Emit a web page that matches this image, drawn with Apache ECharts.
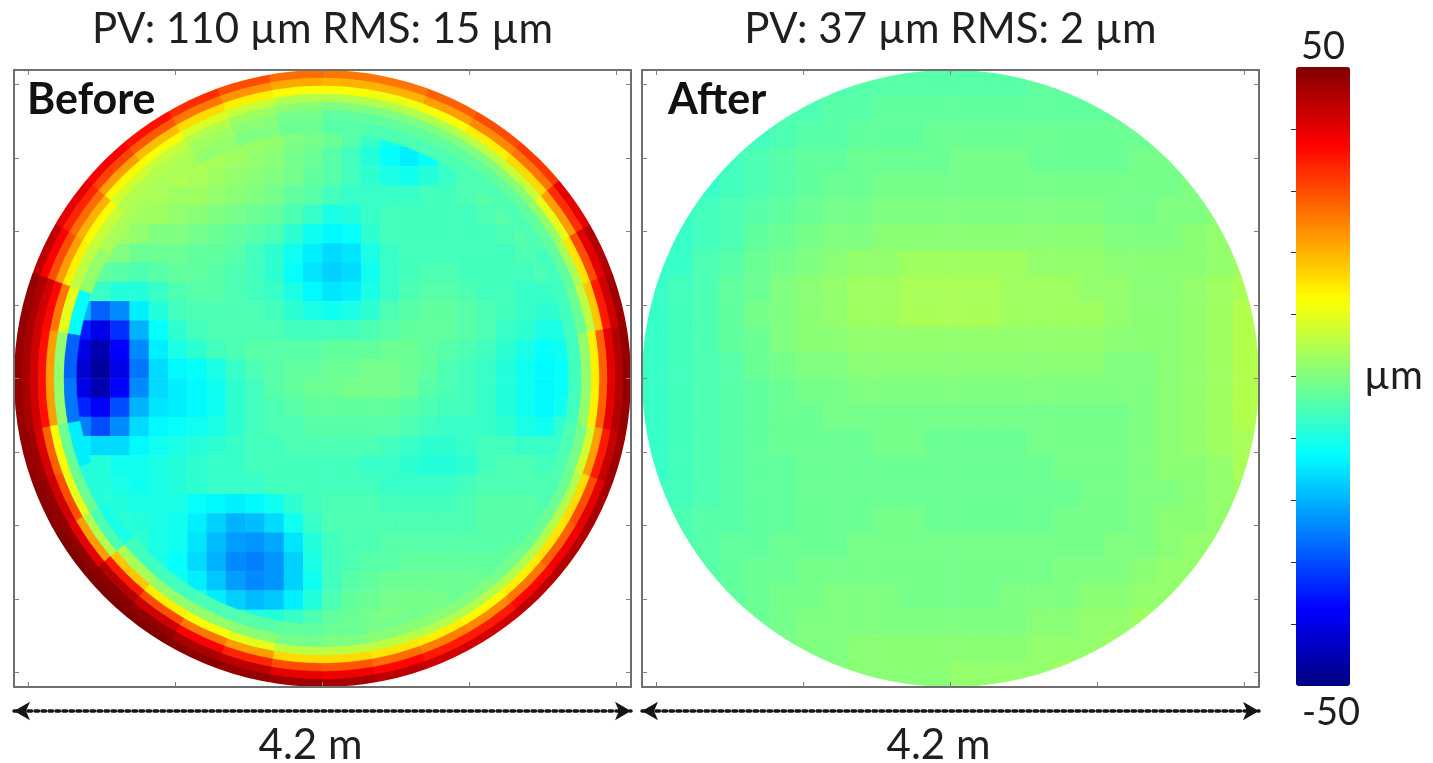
<!DOCTYPE html>
<html>
<head>
<meta charset="utf-8">
<title>Surface error before and after correction</title>
<script src="https://cdn.jsdelivr.net/npm/echarts@6/dist/echarts.min.js"></script>
<style>
  html, body { margin: 0; padding: 0; background: #fff; }
  #chart { width: 1433px; height: 763px; }
</style>
</head>
<body>
<div id="chart"></div>
<script>
const _ = null;

// Half-width of the measured aperture (m); the map is 4.2 m across.
const APERTURE_HALF = 2.1;

// Surface height (µm) before correction, 32 x 32 cells, top row first.
const beforeRows = [
  [_,_,_,_,_,_,_,_,_,_,34,32,30,27,25,24,24,24,24,25,26,27,_,_,_,_,_,_,_,_,_,_],
  [_,_,_,_,_,_,_,_,36,32,25,19,14,10,8,7,7,8,9,12,17,23,28,30,_,_,_,_,_,_,_,_],
  [_,_,_,_,_,_,42,38,28,19,12,7,4,2,0,-1,-2,-3,-4,-4,0,6,12,20,28,31,_,_,_,_,_,_],
  [_,_,_,_,_,42,36,25,14,8,5,4,3,2,0,-1,-2,-4,-7,-11,-13,-9,0,8,17,26,30,_,_,_,_,_],
  [_,_,_,_,38,30,17,9,6,5,4,3,2,1,-1,-2,-4,-6,-9,-12,-14,-12,-7,-3,1,6,14,25,_,_,_,_],
  [_,_,_,42,34,22,12,5,5,4,3,2,1,0,-1,-3,-4,-6,-8,-10,-11,-9,-7,-5,-4,3,12,24,30,_,_,_],
  [_,_,44,38,25,14,5,4,3,3,2,1,0,-1,-3,-4,-6,-7,-7,-7,-7,-6,-6,-5,-4,-4,4,13,26,32,_,_],
  [_,_,44,32,14,5,3,3,2,1,0,-1,-2,-3,-5,-7,-10,-9,-7,-6,-6,-6,-6,-6,-5,-4,-4,5,18,32,_,_],
  [_,46,38,18,4,3,2,0,0,-1,-2,-3,-4,-5,-8,-11,-13,-12,-8,-6,-6,-6,-6,-6,-6,-5,-4,-4,10,28,38,_],
  [_,46,32,10,2,0,-2,-2,-2,-3,-3,-4,-6,-8,-11,-14,-16,-15,-10,-7,-6,-6,-6,-6,-6,-6,-5,-5,5,22,40,_],
  [48,46,36,0,-3,-4,-5,-4,-3,-3,-4,-5,-6,-8,-12,-15,-17,-16,-11,-7,-6,-5,-5,-6,-6,-6,-6,-5,-6,12,36,46],
  [48,44,26,-2,-7,-9,-9,-7,-5,-4,-4,-5,-6,-7,-10,-13,-15,-14,-10,-7,-5,-4,-4,-5,-6,-6,-7,-7,-7,8,37,47],
  [48,40,8,-20,-28,-24,-14,-9,-6,-5,-5,-5,-5,-6,-8,-10,-11,-10,-8,-5,-4,-3,-3,-4,-5,-6,-7,-8,-8,3,34,47],
  [48,32,0,-35,-40,-33,-20,-12,-8,-6,-5,-5,-5,-5,-6,-6,-6,-6,-5,-4,-3,-3,-3,-4,-5,-7,-8,-10,-10,1,28,47],
  [48,30,-5,-40,-45,-38,-24,-14,-10,-8,-6,-5,-4,-4,-4,-4,-3,-3,-3,-2,-2,-3,-4,-5,-6,-8,-10,-12,-11,-8,26,46],
  [48,28,-30,-42,-47,-40,-26,-16,-13,-12,-10,-7,-5,-4,-3,-3,-2,-2,-1,-1,-2,-3,-5,-6,-7,-9,-11,-13,-12,-8,26,46],
  [48,30,-30,-40,-45,-38,-24,-16,-14,-13,-11,-8,-6,-4,-3,-2,-2,-1,-1,-1,-2,-4,-5,-6,-7,-9,-11,-13,-12,-8,26,46],
  [48,34,-25,-34,-38,-30,-20,-15,-14,-13,-11,-8,-6,-5,-4,-3,-3,-3,-3,-3,-4,-5,-6,-6,-7,-9,-11,-13,-11,-8,28,47],
  [48,40,-15,-25,-30,-24,-16,-13,-12,-11,-10,-8,-6,-5,-5,-4,-4,-4,-4,-4,-5,-6,-7,-7,-7,-8,-10,-11,-8,-6,30,47],
  [48,46,-10,-14,-16,-16,-13,-11,-10,-9,-8,-7,-6,-6,-5,-5,-5,-5,-5,-6,-7,-8,-8,-7,-6,-6,-7,-7,-7,-5,34,47],
  [48,48,30,-10,-9,-11,-11,-10,-9,-8,-7,-7,-6,-6,-6,-6,-6,-6,-7,-7,-8,-9,-9,-8,-6,-5,-5,-6,-6,10,40,46],
  [48,50,42,-8,-9,-10,-11,-10,-9,-8,-7,-7,-7,-6,-6,-6,-6,-6,-6,-7,-7,-7,-7,-6,-5,-5,-5,-5,-5,16,42,46],
  [_,48,48,28,-8,-9,-10,-10,-10,-12,-13,-14,-13,-11,-8,-6,-5,-5,-5,-6,-6,-6,-6,-5,-4,-4,-4,-4,4,24,44,_],
  [_,48,50,44,-6,-8,-9,-10,-11,-14,-17,-20,-19,-16,-11,-7,-5,-5,-5,-5,-5,-5,-5,-5,-4,-4,-4,-4,12,34,44,_],
  [_,_,48,50,40,-6,-8,-10,-11,-15,-19,-22,-23,-21,-15,-9,-6,-5,-5,-4,-4,-4,-4,-4,-4,-4,-4,5,26,42,_,_],
  [_,_,48,50,48,22,-7,-10,-12,-16,-20,-24,-25,-23,-17,-10,-6,-5,-4,-4,-3,-3,-3,-3,-3,-3,6,22,38,42,_,_],
  [_,_,_,48,50,44,12,-8,-11,-14,-18,-22,-24,-23,-17,-11,-6,-4,-3,-2,-2,-2,-2,-2,-2,-2,10,25,40,_,_,_],
  [_,_,_,_,48,50,40,10,-7,-10,-14,-17,-19,-18,-14,-9,-5,-3,-2,-1,-1,-1,-1,-1,-1,12,26,38,_,_,_,_],
  [_,_,_,_,_,48,50,46,32,8,-4,-8,-10,-9,-7,-5,-3,-2,-1,0,-1,-1,-1,9,18,30,38,_,_,_,_,_],
  [_,_,_,_,_,_,48,50,48,42,30,14,4,0,-2,-3,-3,-2,0,3,8,15,22,30,38,40,_,_,_,_,_,_],
  [_,_,_,_,_,_,_,_,48,50,49,44,38,26,22,20,20,22,26,30,34,38,40,40,_,_,_,_,_,_,_,_],
  [_,_,_,_,_,_,_,_,_,_,50,50,49,48,47,46,46,45,44,43,42,42,_,_,_,_,_,_,_,_,_,_]
];

// Rim of the "before" map in polar cells: ring edges (m, outermost first),
// sector edges (deg, counter-clockwise from the right) and heights (µm),
// one row per sector, outer ring first.
const rimRadii = [2.1, 2.045, 1.991, 1.936, 1.882, 1.827, 1.759, 1.677];
const rimSectorEdges = [0, 10, 20, 30, 40, 50, 60, 70, 80, 90, 100, 110, 120,
  130, 140, 150, 160, 170, 180, 190, 200, 210, 220, 230, 240, 250, 260, 270,
  280, 290, 300, 310, 320, 330, 340, 350, 360];
const rimProfiles = [
  [48, 45, 40, 28, 14, 2, -6],
  [47, 42, 35, 18, 6, -2, -6],
  [45, 40, 30, 15, 4, -3, -6],
  [40, 33, 22, 10, 2, -3, -5],
  [32, 26, 16, 7, 1, -3, -5],
  [30, 24, 14, 6, 0, -3, -5],
  [28, 22, 12, 5, 0, -3, -5],
  [26, 20, 11, 5, 0, -3, -5],
  [26, 20, 12, 5, 0, -3, -4],
  [27, 21, 12, 5, 1, -1, -2],
  [30, 23, 14, 7, 3, 1, 0],
  [33, 26, 16, 9, 5, 3, 2],
  [36, 29, 19, 12, 7, 5, 4],
  [38, 31, 22, 13, 8, 5, 4],
  [40, 34, 27, 20, 13, 7, 4],
  [44, 38, 30, 22, 14, 6, 2],
  [48, 46, 42, 37, 26, 10, -12],
  [48, 46, 42, 36, 22, 2, -28],
  [48, 46, 42, 36, 22, 2, -26],
  [48, 47, 41, 28, 12, -2, -14],
  [49, 48, 42, 30, 10, -2, -9],
  [50, 48, 40, 22, 5, -5, -10],
  [50, 49, 45, 35, 18, 4, -6],
  [50, 48, 42, 30, 14, 2, -6],
  [49, 46, 38, 26, 12, 2, -5],
  [48, 44, 34, 22, 10, 1, -4],
  [47, 40, 30, 16, 6, -1, -3],
  [46, 39, 29, 16, 6, 0, -2],
  [44, 37, 27, 15, 6, 1, -1],
  [42, 35, 25, 14, 5, 1, -1],
  [42, 35, 24, 13, 5, 0, -2],
  [44, 37, 26, 14, 5, -1, -3],
  [45, 39, 28, 15, 5, -2, -4],
  [46, 40, 30, 16, 5, -2, -5],
  [47, 43, 35, 22, 8, -1, -5],
  [48, 45, 40, 28, 14, 2, -6]
];

// Surface height (µm) after correction, 24 x 24 cells, top row first.
const afterRows = [
  [_,_,_,_,_,_,_,-5,-4,-4,-4,-4,-4,-4,-4,-3,-3,_,_,_,_,_,_,_],
  [_,_,_,_,_,-5,-5,-4,-4,-3,-3,-3,-3,-3,-3,-3,-3,-3,-3,_,_,_,_,_],
  [_,_,_,_,-6,-5,-4,-4,-3,-3,-3,-2,-2,-2,-2,-2,-2,-2,-2,-2,_,_,_,_],
  [_,_,_,-6,-5,-4,-3,-3,-2,-2,-2,-2,-1,-1,-1,-2,-2,-2,-2,-1,-1,_,_,_],
  [_,_,-7,-6,-5,-4,-3,-2,-2,-1,-1,-1,-1,-1,-1,-1,-1,-1,-1,-1,-1,0,_,_],
  [_,-7,-6,-5,-4,-3,-2,-1,-1,0,0,0,0,0,0,0,0,0,-1,-1,0,0,1,_],
  [_,-7,-6,-5,-3,-2,-1,0,0,1,1,1,1,1,1,1,1,1,0,0,0,1,2,_],
  [-7,-7,-5,-4,-2,-1,0,1,2,2,3,3,3,3,3,2,2,2,1,1,1,1,2,3],
  [-7,-6,-5,-3,-2,0,1,2,3,3,4,4,4,4,3,3,3,2,2,1,1,2,3,4],
  [-7,-6,-5,-3,-1,0,1,2,3,3,4,4,4,4,3,3,3,3,2,1,1,2,3,5],
  [-7,-6,-5,-3,-2,0,1,1,2,2,2,2,2,2,2,2,2,2,1,1,1,2,3,5],
  [-7,-6,-5,-4,-2,-1,0,0,1,1,1,1,1,1,1,1,1,1,0,0,1,2,3,5],
  [-7,-6,-5,-4,-3,-2,-1,-1,0,0,0,0,0,0,0,0,0,0,0,0,1,2,3,5],
  [-7,-6,-5,-4,-3,-2,-2,-1,-1,-1,-1,-1,-1,-1,-1,-1,-1,-1,-1,0,1,2,3,5],
  [-7,-6,-5,-4,-3,-2,-2,-2,-2,-1,-1,-2,-2,-2,-2,-1,-1,-1,-1,0,1,2,3,4],
  [-7,-6,-5,-4,-3,-3,-2,-2,-2,-2,-2,-2,-2,-2,-2,-2,-1,-1,-1,0,1,1,2,4],
  [-6,-6,-5,-4,-3,-3,-2,-2,-2,-2,-2,-2,-2,-2,-2,-2,-2,-1,-1,0,0,1,2,3],
  [_,-5,-4,-4,-3,-3,-2,-2,-2,-1,-1,-2,-2,-2,-2,-2,-1,-1,-1,0,1,1,2,_],
  [_,-5,-4,-3,-3,-2,-2,-2,-1,-1,-1,-1,-1,-1,-1,-1,-1,-1,0,0,1,2,2,_],
  [_,_,-4,-3,-2,-2,-1,-1,-1,-1,-1,-1,-1,-1,-1,-1,0,0,0,1,2,2,_,_],
  [_,_,_,-3,-2,-1,-1,0,0,0,-1,-1,-1,-1,0,0,0,1,1,2,2,_,_,_],
  [_,_,_,_,-2,-1,0,0,0,0,0,0,0,0,0,1,1,2,2,3,_,_,_,_],
  [_,_,_,_,_,-1,0,0,1,1,1,1,1,1,1,2,2,2,3,_,_,_,_,_],
  [_,_,_,_,_,_,_,0,1,1,1,1,2,2,2,2,3,_,_,_,_,_,_,_]
];

const panelTitles = ['PV: 110 µm RMS: 15 µm', 'PV: 37 µm RMS: 2 µm'];
const panelTags = ['Before', 'After'];
const spanLabel = '4.2 m';
const unitLabel = 'µm';

// Frame tick positions (m) and colour-bar tick positions (µm)
const xTickValues = [-2, -1, 0, 1, 2];
const yTickValues = [-2, -1.5, -1, -0.5, 0, 0.5, 1, 1.5, 2];
const colorTickValues = [-40, -30, -20, -10, 0, 10, 20, 30, 40];
const COLOR_MIN = -50;
const COLOR_MAX = 50;

// Jet colour map, evenly spaced stops
const JET = ['#000080', '#0000ff', '#0080ff', '#00ffff', '#80ff80',
             '#ffff00', '#ff8000', '#ff0000', '#800000'];

const FONT = 'Lato, "Open Sans", "Liberation Sans", sans-serif';
const TEXT = '#1f1f1f';
const FRAME = '#6f6f6f';

// Layout (px)
const BOX_TOP = 70;
const BOX_SIZE = 617;
const PANEL_LEFT = [14, 642];
const TAG_INSET = [13, 26];
const BAR = { left: 1296, top: 67, width: 54, height: 619 };

function toCells(rows) {
  const cells = [];
  rows.forEach((row, r) => row.forEach((v, c) => {
    if (v !== null) cells.push([c, r, v]);
  }));
  return cells;
}

function toRimCells() {
  const cells = [];
  rimProfiles.forEach((profile, k) => profile.forEach((v, ring) => {
    cells.push([rimRadii[ring + 1], rimSectorEdges[k], rimRadii[ring], rimSectorEdges[k + 1], v]);
  }));
  return cells;
}

// White surround outside the circular aperture
function apertureMask(params, api) {
  const cs = params.coordSys;
  const c = api.coord([api.value(0), api.value(1)]);
  const r = api.size([api.value(2), 0])[0];
  const x0 = cs.x, y0 = cs.y, x1 = cs.x + cs.width, y1 = cs.y + cs.height;
  const d = 'M' + x0 + ' ' + y0 + 'H' + x1 + 'V' + y1 + 'H' + x0 + 'Z' +
    'M' + (c[0] + r) + ' ' + c[1] +
    'A' + r + ' ' + r + ' 0 1 0 ' + (c[0] - r) + ' ' + c[1] +
    'A' + r + ' ' + r + ' 0 1 0 ' + (c[0] + r) + ' ' + c[1] + 'Z';
  return { type: 'path', shape: { pathData: d }, style: { fill: '#ffffff' }, silent: true };
}

// One annular sector of the rim
function rimSector(params, api) {
  const cs = params.coordSys;
  const pIn = api.coord([api.value(0), api.value(1)]);
  const pOut = api.coord([api.value(2), api.value(3)]);
  const r0 = Math.hypot(pIn[0] - cs.cx, pIn[1] - cs.cy);
  const r = Math.hypot(pOut[0] - cs.cx, pOut[1] - cs.cy);
  const aStart = Math.atan2(pIn[1] - cs.cy, pIn[0] - cs.cx);
  const aEnd = Math.atan2(pOut[1] - cs.cy, pOut[0] - cs.cx);
  let sweep = aStart - aEnd;
  if (sweep <= 0) sweep += Math.PI * 2;
  const color = api.visual('color');
  return {
    type: 'sector',
    shape: { cx: cs.cx, cy: cs.cy, r0, r, startAngle: aStart - sweep, endAngle: aStart, clockwise: true },
    style: { fill: color, stroke: color, lineWidth: 0.6 },
    silent: true
  };
}

const grids = [], xAxes = [], yAxes = [], series = [], titles = [];
const heatmapIndices = [];

function frameAxis(gridIndex, position, ticks) {
  return {
    type: 'value', gridIndex, position, min: -APERTURE_HALF, max: APERTURE_HALF, z: 10,
    axisLine: { show: true, onZero: false, lineStyle: { color: FRAME, width: 2 } },
    axisTick: { show: true, inside: true, length: 5, customValues: ticks,
                lineStyle: { color: '#808080', width: 1 } },
    axisLabel: { show: false }, splitLine: { show: false }
  };
}

function addPanel(k, rows) {
  const left = PANEL_LEFT[k];
  const g = grids.length;
  grids.push({ left, top: BOX_TOP, width: BOX_SIZE, height: BOX_SIZE,
               containLabel: false, outerBoundsMode: 'none' });
  const n = rows.length;
  const cats = Array.from({ length: n }, (v, i) => i);

  const xCat = xAxes.push({ type: 'category', gridIndex: g, data: cats, show: false }) - 1;
  const yCat = yAxes.push({ type: 'category', gridIndex: g, data: cats, inverse: true, show: false }) - 1;
  const xBottom = xAxes.push(frameAxis(g, 'bottom', xTickValues)) - 1;
  xAxes.push(frameAxis(g, 'top', xTickValues));
  const yLeft = yAxes.push(frameAxis(g, 'left', yTickValues)) - 1;
  yAxes.push(frameAxis(g, 'right', yTickValues));

  // dotted double arrow spanning the aperture, with its length below
  xAxes.push({
    type: 'value', gridIndex: g, position: 'bottom', offset: 24,
    min: -APERTURE_HALF, max: APERTURE_HALF,
    axisLine: { show: true, onZero: false, symbol: ['arrow', 'arrow'], symbolSize: [14, 16],
                lineStyle: { color: '#151515', width: 3.5, type: 'dotted' } },
    axisTick: { show: false }, axisLabel: { show: false }, splitLine: { show: false },
    name: spanLabel, nameLocation: 'middle', nameGap: 13,
    nameTextStyle: { fontFamily: FONT, fontSize: 42, color: TEXT, verticalAlign: 'top',
                     padding: [0, 24, 0, 0] }
  });

  heatmapIndices.push(series.length);
  series.push({
    type: 'heatmap', xAxisIndex: xCat, yAxisIndex: yCat,
    data: toCells(rows), progressive: 0,
    itemStyle: { borderWidth: 0 }, emphasis: { disabled: true }
  });
  series.push({
    type: 'custom', xAxisIndex: xBottom, yAxisIndex: yLeft, z: 4, silent: true,
    data: [[0, 0, APERTURE_HALF]], renderItem: apertureMask
  });

  titles.push({
    text: panelTitles[k], left: left + BOX_SIZE / 2, top: 8, textAlign: 'center', padding: 0,
    textStyle: { fontFamily: FONT, fontSize: 42, fontWeight: 'normal', color: TEXT }
  });
  titles.push({
    text: panelTags[k], left: left + TAG_INSET[k], top: 79, padding: 0,
    textStyle: { fontFamily: FONT, fontSize: 43, fontWeight: 'bold', color: '#111' }
  });
}

addPanel(0, beforeRows);
addPanel(1, afterRows);

// Polar rim of the "before" map, centred on the left aperture
const polar = [{
  center: [PANEL_LEFT[0] + BOX_SIZE / 2, BOX_TOP + BOX_SIZE / 2],
  radius: [0, BOX_SIZE / 2]
}];
const angleAxis = [{ polarIndex: 0, type: 'value', min: 0, max: 360, startAngle: 0,
                     clockwise: false, show: false }];
const radiusAxis = [{ polarIndex: 0, type: 'value', min: 0, max: APERTURE_HALF, show: false }];
const rimIndex = series.length;
series.push({
  type: 'custom', coordinateSystem: 'polar', polarIndex: 0, z: 3, silent: true,
  data: toRimCells(), renderItem: rimSector
});

// Colour bar ticks, end values and unit
const gBar = grids.push({ left: BAR.left, top: BAR.top, width: BAR.width, height: BAR.height,
                          containLabel: false, outerBoundsMode: 'none' }) - 1;
xAxes.push({ type: 'value', gridIndex: gBar, show: false, min: 0, max: 1 });
yAxes.push({
  type: 'value', gridIndex: gBar, position: 'right', min: COLOR_MIN, max: COLOR_MAX, z: 10,
  axisLine: { show: false },
  axisTick: { show: true, inside: true, length: 5, customValues: colorTickValues,
              lineStyle: { color: '#333', width: 1 } },
  axisLabel: { show: false }, splitLine: { show: false },
  name: unitLabel, nameLocation: 'middle', nameRotate: 0, nameGap: 14,
  nameTextStyle: { fontFamily: FONT, fontSize: 40, color: TEXT, align: 'left' }
});
titles.push({
  text: String(COLOR_MAX), left: BAR.left + BAR.width / 2, top: 28, textAlign: 'center', padding: 0,
  textStyle: { fontFamily: FONT, fontSize: 38, fontWeight: 'normal', color: TEXT }
});
titles.push({
  text: String(COLOR_MIN), left: BAR.left + BAR.width / 2 + 8, top: 694, textAlign: 'center', padding: 0,
  textStyle: { fontFamily: FONT, fontSize: 38, fontWeight: 'normal', color: TEXT }
});

const chart = echarts.init(document.getElementById('chart'), null, { renderer: 'canvas' });
chart.setOption({
  animation: false,
  backgroundColor: '#ffffff',
  title: titles,
  grid: grids,
  polar,
  angleAxis,
  radiusAxis,
  xAxis: xAxes,
  yAxis: yAxes,
  visualMap: [{
    type: 'continuous', seriesIndex: heatmapIndices,
    min: COLOR_MIN, max: COLOR_MAX, calculable: false, hoverLink: false,
    orient: 'vertical', left: BAR.left, top: BAR.top, padding: 0,
    itemWidth: BAR.width, itemHeight: BAR.height, text: null,
    inRange: { color: JET }
  }, {
    type: 'continuous', show: false, seriesIndex: rimIndex, dimension: 4,
    min: COLOR_MIN, max: COLOR_MAX, inRange: { color: JET }
  }],
  series
});
</script>
</body>
</html>
